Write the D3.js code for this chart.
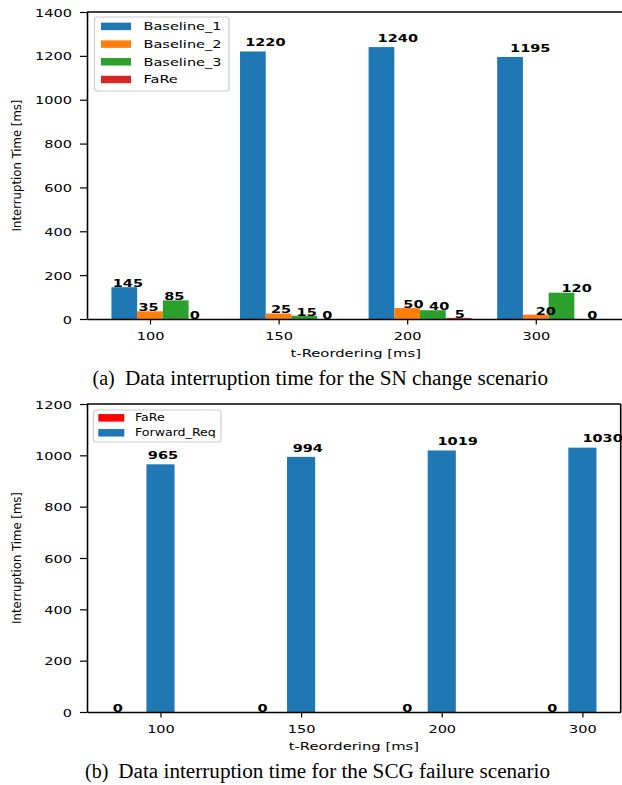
<!DOCTYPE html>
<html>
<head>
<meta charset="utf-8">
<script src="https://cdn.jsdelivr.net/npm/d3@7"></script>
<style>
  html, body { margin: 0; padding: 0; background: #fff; }
  svg { display: block; }
  text { font-family: "DejaVu Sans", sans-serif; fill: #000; }
  .cap { font-family: "Liberation Serif", "Times New Roman", serif; }
</style>
</head>
<body>
<svg id="chart" width="622" height="785"></svg>
<script>
// ---------- data ----------
const categories = ["100", "150", "200", "300"];

// Chart (a): SN change scenario
const seriesNamesA = ["Baseline_1", "Baseline_2", "Baseline_3", "FaRe"];
const baseline1 = [145, 1220, 1240, 1195];
const baseline2 = [35, 25, 50, 20];
const baseline3 = [85, 15, 40, 120];
const fareA = [0, 0, 5, 0];
const yTicksA = [0, 200, 400, 600, 800, 1000, 1200, 1400];

// Chart (b): SCG failure scenario
const seriesNamesB = ["FaRe", "Forward_Req"];
const fareB = [0, 0, 0, 0];
const forwardReq = [965, 994, 1019, 1030];
const yTicksB = [0, 200, 400, 600, 800, 1000, 1200];

const xLabel = "t-Reordering [ms]";
const yLabel = "Interruption Time [ms]";
const captionA = ["(a)", "Data interruption time for the SN change scenario"];
const captionB = ["(b)", "Data interruption time for the SCG failure scenario"];

// ---------- drawing ----------
const svg = d3.select("#chart");
const SX = 1.32; // horizontal stretch of the original figure text
const FS = 11;

function stext(g, x, y, str, opts = {}) {
  const t = g.append("text")
    .attr("transform", `translate(${x},${y}) scale(${opts.sx || SX},1)`)
    .attr("font-size", opts.size || FS)
    .attr("text-anchor", opts.anchor || "start")
    .text(str);
  if (opts.bold) t.attr("font-weight", "bold");
  if (opts.cls) t.attr("class", opts.cls);
  return t;
}

function drawChart(cfg) {
  const g = svg.append("g");
  const barW = 0.2;
  // extents of bars in index units -> matplotlib-like 5% margins
  const lo = d3.min(cfg.offsets) - barW / 2;
  const hi = categories.length - 1 + d3.max(cfg.offsets) + barW / 2;
  const m = (hi - lo) * 0.05;
  const x = d3.scaleLinear().domain([lo - m, hi + m]).range([cfg.left, cfg.right]);
  const y = d3.scaleLinear().domain([0, cfg.yMax]).range([cfg.bottom, cfg.top]);
  const step = x(1) - x(0);

  // bars
  cfg.series.forEach((s, si) => {
    g.append("g").selectAll("rect")
      .data(s.values)
      .join("rect")
      .attr("x", (d, i) => x(i + cfg.offsets[si] - barW / 2))
      .attr("width", x(barW) - x(0))
      .attr("y", d => y(d))
      .attr("height", d => y(0) - y(d))
      .attr("fill", s.color);
  });

  // value labels
  cfg.series.forEach((s, si) => {
    s.values.forEach((v, i) => {
      const bx = x(i + cfg.offsets[si] - barW / 2) + (0.01 + 0.03 * i) * step;
      stext(g, bx, y(v * 1.02), String(v), { bold: true });
    });
  });

  // y axis
  const ya = g.append("g").attr("transform", `translate(${cfg.left},0)`)
    .call(d3.axisLeft(y).tickValues(cfg.yTicks).tickSize(7).tickSizeOuter(0).tickFormat(d3.format("d")));
  ya.select(".domain").attr("stroke", "#000").attr("stroke-width", 1.6);
  ya.selectAll(".tick line").attr("stroke", "#000").attr("stroke-width", 1.2);
  ya.selectAll(".tick text")
    .attr("x", null).attr("dy", null)
    .attr("font-family", "DejaVu Sans").attr("font-size", FS)
    .attr("transform", `translate(-15,4) scale(${SX},1)`);

  // x axis
  const xa = g.append("g").attr("transform", `translate(0,${cfg.bottom})`)
    .call(d3.axisBottom(x).tickValues(d3.range(categories.length)).tickSize(5.5).tickSizeOuter(0)
      .tickFormat(i => categories[i]));
  xa.select(".domain").attr("stroke", "#000").attr("stroke-width", 1.6);
  xa.selectAll(".tick line").attr("stroke", "#000").attr("stroke-width", 1.2);
  xa.selectAll(".tick text")
    .attr("y", null).attr("dy", null)
    .attr("font-family", "DejaVu Sans").attr("font-size", FS)
    .attr("transform", `translate(0,21) scale(${SX},1)`);

  // top and right spines
  g.append("line").attr("x1", cfg.left).attr("x2", cfg.right).attr("y1", cfg.top).attr("y2", cfg.top)
    .attr("stroke", "#000").attr("stroke-width", 1.6);
  g.append("line").attr("x1", cfg.right).attr("x2", cfg.right).attr("y1", cfg.top).attr("y2", cfg.bottom)
    .attr("stroke", "#000").attr("stroke-width", 1.6);

  // axis labels
  stext(g, (cfg.left + cfg.right) / 2, cfg.bottom + 38, xLabel, { anchor: "middle", size: 11.2 });
  g.append("text")
    .attr("transform", `translate(21,${(cfg.top + cfg.bottom) / 2}) rotate(-90)`)
    .attr("text-anchor", "middle")
    .attr("font-size", 11.7)
    .text(yLabel);

  // legend
  const L = cfg.legend;
  const lg = g.append("g");
  lg.append("rect").attr("x", L.x).attr("y", L.y).attr("width", L.w).attr("height", L.h)
    .attr("rx", 3).attr("fill", "#fff").attr("fill-opacity", 0.8)
    .attr("stroke", "#cccccc").attr("stroke-width", 1.2);
  L.items.forEach((it, k) => {
    const cy = L.firstRow + k * L.rowStep;
    lg.append("rect").attr("x", L.px).attr("y", cy - L.ph / 2).attr("width", L.pw).attr("height", L.ph)
      .attr("fill", it.color);
    stext(lg, L.tx, cy + L.fs * 0.36, it.name, { size: L.fs, sx: L.sx });
  });

  // caption
  g.append("text").attr("class", "cap").attr("x", cfg.cap.x1).attr("y", cfg.cap.y)
    .attr("font-size", cfg.cap.size).text(cfg.cap.text[0]);
  g.append("text").attr("class", "cap").attr("x", cfg.cap.x2).attr("y", cfg.cap.y)
    .attr("font-size", cfg.cap.size).attr("textLength", cfg.cap.len).attr("lengthAdjust", "spacingAndGlyphs")
    .text(cfg.cap.text[1]);
}

const colA = ["#1f77b4", "#ff7f0e", "#2ca02c", "#d62728"];
const valsA = [baseline1, baseline2, baseline3, fareA];
drawChart({
  left: 87, right: 624.5, top: 12, bottom: 319, yMax: 1400, yTicks: yTicksA,
  offsets: [-0.2, 0, 0.2, 0.4],
  series: seriesNamesA.map((n, i) => ({ name: n, values: valsA[i], color: colA[i] })),
  legend: {
    x: 94.5, y: 17, w: 134.5, h: 74, px: 101, pw: 30, ph: 7.5, tx: 143.5,
    firstRow: 26.4, rowStep: 17.7, fs: 11, sx: SX,
    items: seriesNamesA.map((n, i) => ({ name: n, color: colA[i] }))
  },
  cap: { x1: 92.5, x2: 125, y: 385, size: 20, len: 423, text: captionA }
});

const colB = ["#ff0000", "#1f77b4"];
const valsB = [fareB, forwardReq];
drawChart({
  left: 87, right: 620.7, top: 404, bottom: 712, yMax: 1200, yTicks: yTicksB,
  offsets: [-0.25, 0],
  series: seriesNamesB.map((n, i) => ({ name: n, values: valsB[i], color: colB[i] })),
  legend: {
    x: 93.5, y: 410, w: 127.5, h: 32, px: 98.3, pw: 26, ph: 7.5, tx: 135,
    firstRow: 417.8, rowStep: 15, fs: 10, sx: 1.26,
    items: seriesNamesB.map((n, i) => ({ name: n, color: colB[i] }))
  },
  cap: { x1: 85, x2: 118.3, y: 778, size: 20, len: 431.7, text: captionB }
});
</script>
</body>
</html>
